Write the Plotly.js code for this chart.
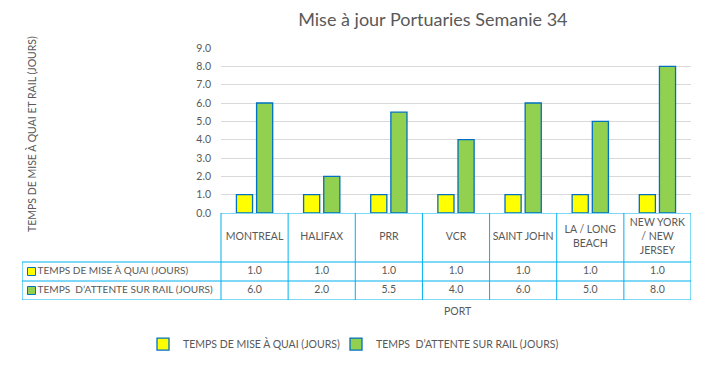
<!DOCTYPE html>
<html>
<head>
<meta charset="utf-8">
<script src="https://cdn.plot.ly/plotly-3.0.1.min.js"></script>
<style>html,body{margin:0;padding:0;background:#fff;}#chart{width:705px;height:367px;}</style>
</head>
<body>
<div id="chart"></div>
<script>
const categories = ['MONTREAL','HALIFAX','PRR','VCR','SAINT JOHN','LA / LONG BEACH','NEW YORK / NEW JERSEY'];
const headerLabels = ['MONTREAL','HALIFAX','PRR','VCR','SAINT JOHN','LA / LONG<br>BEACH','NEW YORK<br>/ NEW<br>JERSEY'];
const seriesNames = ['TEMPS DE MISE À QUAI (JOURS)', 'TEMPS  D\u2019ATTENTE SUR RAIL (JOURS)'];
const quai = [1.0, 1.0, 1.0, 1.0, 1.0, 1.0, 1.0];
const rail = [6.0, 2.0, 5.5, 4.0, 6.0, 5.0, 8.0];
const yTicks = [0,1,2,3,4,5,6,7,8,9];

const FONT = 'Lato, "Open Sans", sans-serif';
const GRAY = '#595959';
const BLUE = '#0070C0';
const TBL = '#00B0F0';
const colors = ['#FFFF00', '#92D050'];
const FS = 10.5;

// layout geometry
const W = 705, H = 367;
const M = {l: 22, r: 14, t: 48, b: 67, autoexpand: false};
const plotW = W - M.l - M.r;
const plotH = H - M.t - M.b;
const labelColPx = 199;
const xd0 = labelColPx / plotW;
const nCat = categories.length;
const catPx = (plotW - labelColPx) / nCat;
const labelUnits = labelColPx / catPx;
const rowPx = 19, headPx = 49;
const headUnits = headPx / rowPx;
const tableTop = 2 + headUnits;
const yDomSplit = (2 * rowPx + headPx) / plotH;
const leftEdge = -0.5 - labelUnits;
const rightEdge = nCat - 0.5;
const idx = categories.map((c, i) => i);
const keyX = leftEdge + 9.5 / catPx;
const labelX = leftEdge + 15.5 / catPx;

const barTraces = [quai, rail].map((vals, i) => ({
  type: 'bar',
  x: categories,
  y: vals,
  name: seriesNames[i],
  legend: i === 0 ? 'legend' : 'legend2',
  marker: {color: colors[i], line: {color: BLUE, width: 1.3}},
  xaxis: 'x', yaxis: 'y',
  hoverinfo: 'skip'
}));

const txtFont = {family: FONT, size: FS, color: GRAY};
const tableTraces = [
  {type: 'scatter', mode: 'text', x: idx, y: idx.map(() => 2 + headUnits / 2),
   text: headerLabels, textposition: 'middle center', textfont: txtFont,
   xaxis: 'x2', yaxis: 'y2', showlegend: false, hoverinfo: 'skip'},
  {type: 'scatter', mode: 'text', x: idx, y: idx.map(() => 1.5),
   text: quai.map(v => v.toFixed(1)), textposition: 'middle center', textfont: txtFont,
   xaxis: 'x2', yaxis: 'y2', showlegend: false, hoverinfo: 'skip'},
  {type: 'scatter', mode: 'text', x: idx, y: idx.map(() => 0.5),
   text: rail.map(v => v.toFixed(1)), textposition: 'middle center', textfont: txtFont,
   xaxis: 'x2', yaxis: 'y2', showlegend: false, hoverinfo: 'skip'},
  {type: 'scatter', mode: 'text', x: [labelX, labelX], y: [1.5, 0.5],
   text: seriesNames, textposition: 'middle right',
   textfont: {family: FONT, size: 10.1, color: GRAY},
   xaxis: 'x2', yaxis: 'y2', showlegend: false, hoverinfo: 'skip'},
  {type: 'scatter', mode: 'markers', x: [keyX, keyX], y: [1.5, 0.5],
   marker: {symbol: 'square', size: 8, color: colors, line: {color: BLUE, width: 1}},
   xaxis: 'x2', yaxis: 'y2', showlegend: false, hoverinfo: 'skip'}
];

const shapes = [];
const ln = {color: TBL, width: 1};
[0, 1, 2].forEach(yv => shapes.push({type: 'line', xref: 'x2', yref: 'y2', x0: leftEdge, x1: rightEdge, y0: yv, y1: yv, line: ln}));
shapes.push({type: 'line', xref: 'x2', yref: 'y2', x0: -0.5, x1: rightEdge, y0: tableTop, y1: tableTop, line: ln});
shapes.push({type: 'line', xref: 'x2', yref: 'y2', x0: leftEdge, x1: leftEdge, y0: 0, y1: 2, line: ln});
for (let k = 0; k <= nCat; k++) {
  shapes.push({type: 'line', xref: 'x2', yref: 'y2', x0: k - 0.5, x1: k - 0.5, y0: 0, y1: tableTop, line: ln});
}

const hidden = {showticklabels: false, ticks: '', showgrid: false, zeroline: false, showline: false, fixedrange: true};
const legendBase = {
  orientation: 'h', yanchor: 'middle', y: -0.175, xanchor: 'left',
  font: {family: FONT, size: FS, color: GRAY}, itemwidth: 30, bgcolor: 'rgba(0,0,0,0)'
};

const layout = {
  width: W, height: H,
  margin: M,
  paper_bgcolor: '#ffffff', plot_bgcolor: '#ffffff',
  font: {family: FONT, color: GRAY, size: FS},
  title: {
    text: 'Mise à jour Portuaries Semanie 34',
    font: {family: FONT, size: 18, color: GRAY},
    x: 0.614, xref: 'container', xanchor: 'center',
    y: 0.945, yref: 'container', yanchor: 'middle'
  },
  barmode: 'group',
  bargap: 0.4,
  bargroupgap: 0.2,
  xaxis: Object.assign({domain: [xd0, 1], type: 'category', anchor: 'y'}, hidden),
  yaxis: {
    domain: [yDomSplit, 1],
    anchor: 'x',
    range: [0, 9],
    tickvals: yTicks,
    tickformat: '.1f',
    showgrid: true,
    gridcolor: '#D9D9D9',
    gridwidth: 1,
    zeroline: false,
    showline: false,
    ticks: '',
    ticklabelstandoff: 9,
    tickfont: {family: FONT, size: FS, color: GRAY},
    fixedrange: true
  },
  xaxis2: Object.assign({domain: [0, 1], range: [leftEdge, rightEdge], anchor: 'y2'}, hidden),
  yaxis2: Object.assign({domain: [0, yDomSplit], range: [0, tableTop], anchor: 'x2'}, hidden),
  shapes: shapes,
  showlegend: true,
  legend: Object.assign({x: (143 - M.l) / plotW}, legendBase),
  legend2: Object.assign({x: (336 - M.l) / plotW}, legendBase),
  annotations: [
    {
      text: 'PORT', xref: 'paper', yref: 'paper',
      x: 0.651, y: -0.044, xanchor: 'center', yanchor: 'middle',
      showarrow: false, font: {family: FONT, size: FS, color: GRAY}
    },
    {
      text: 'TEMPS DE MISE À QUAI ET RAIL (JOURS)', xref: 'paper', yref: 'paper',
      x: 0.015, y: 0.659, xanchor: 'center', yanchor: 'middle', textangle: -90,
      showarrow: false, font: {family: FONT, size: FS, color: GRAY}
    }
  ]
};

Plotly.newPlot('chart', barTraces.concat(tableTraces), layout, {displayModeBar: false, staticPlot: true});
</script>
</body>
</html>
